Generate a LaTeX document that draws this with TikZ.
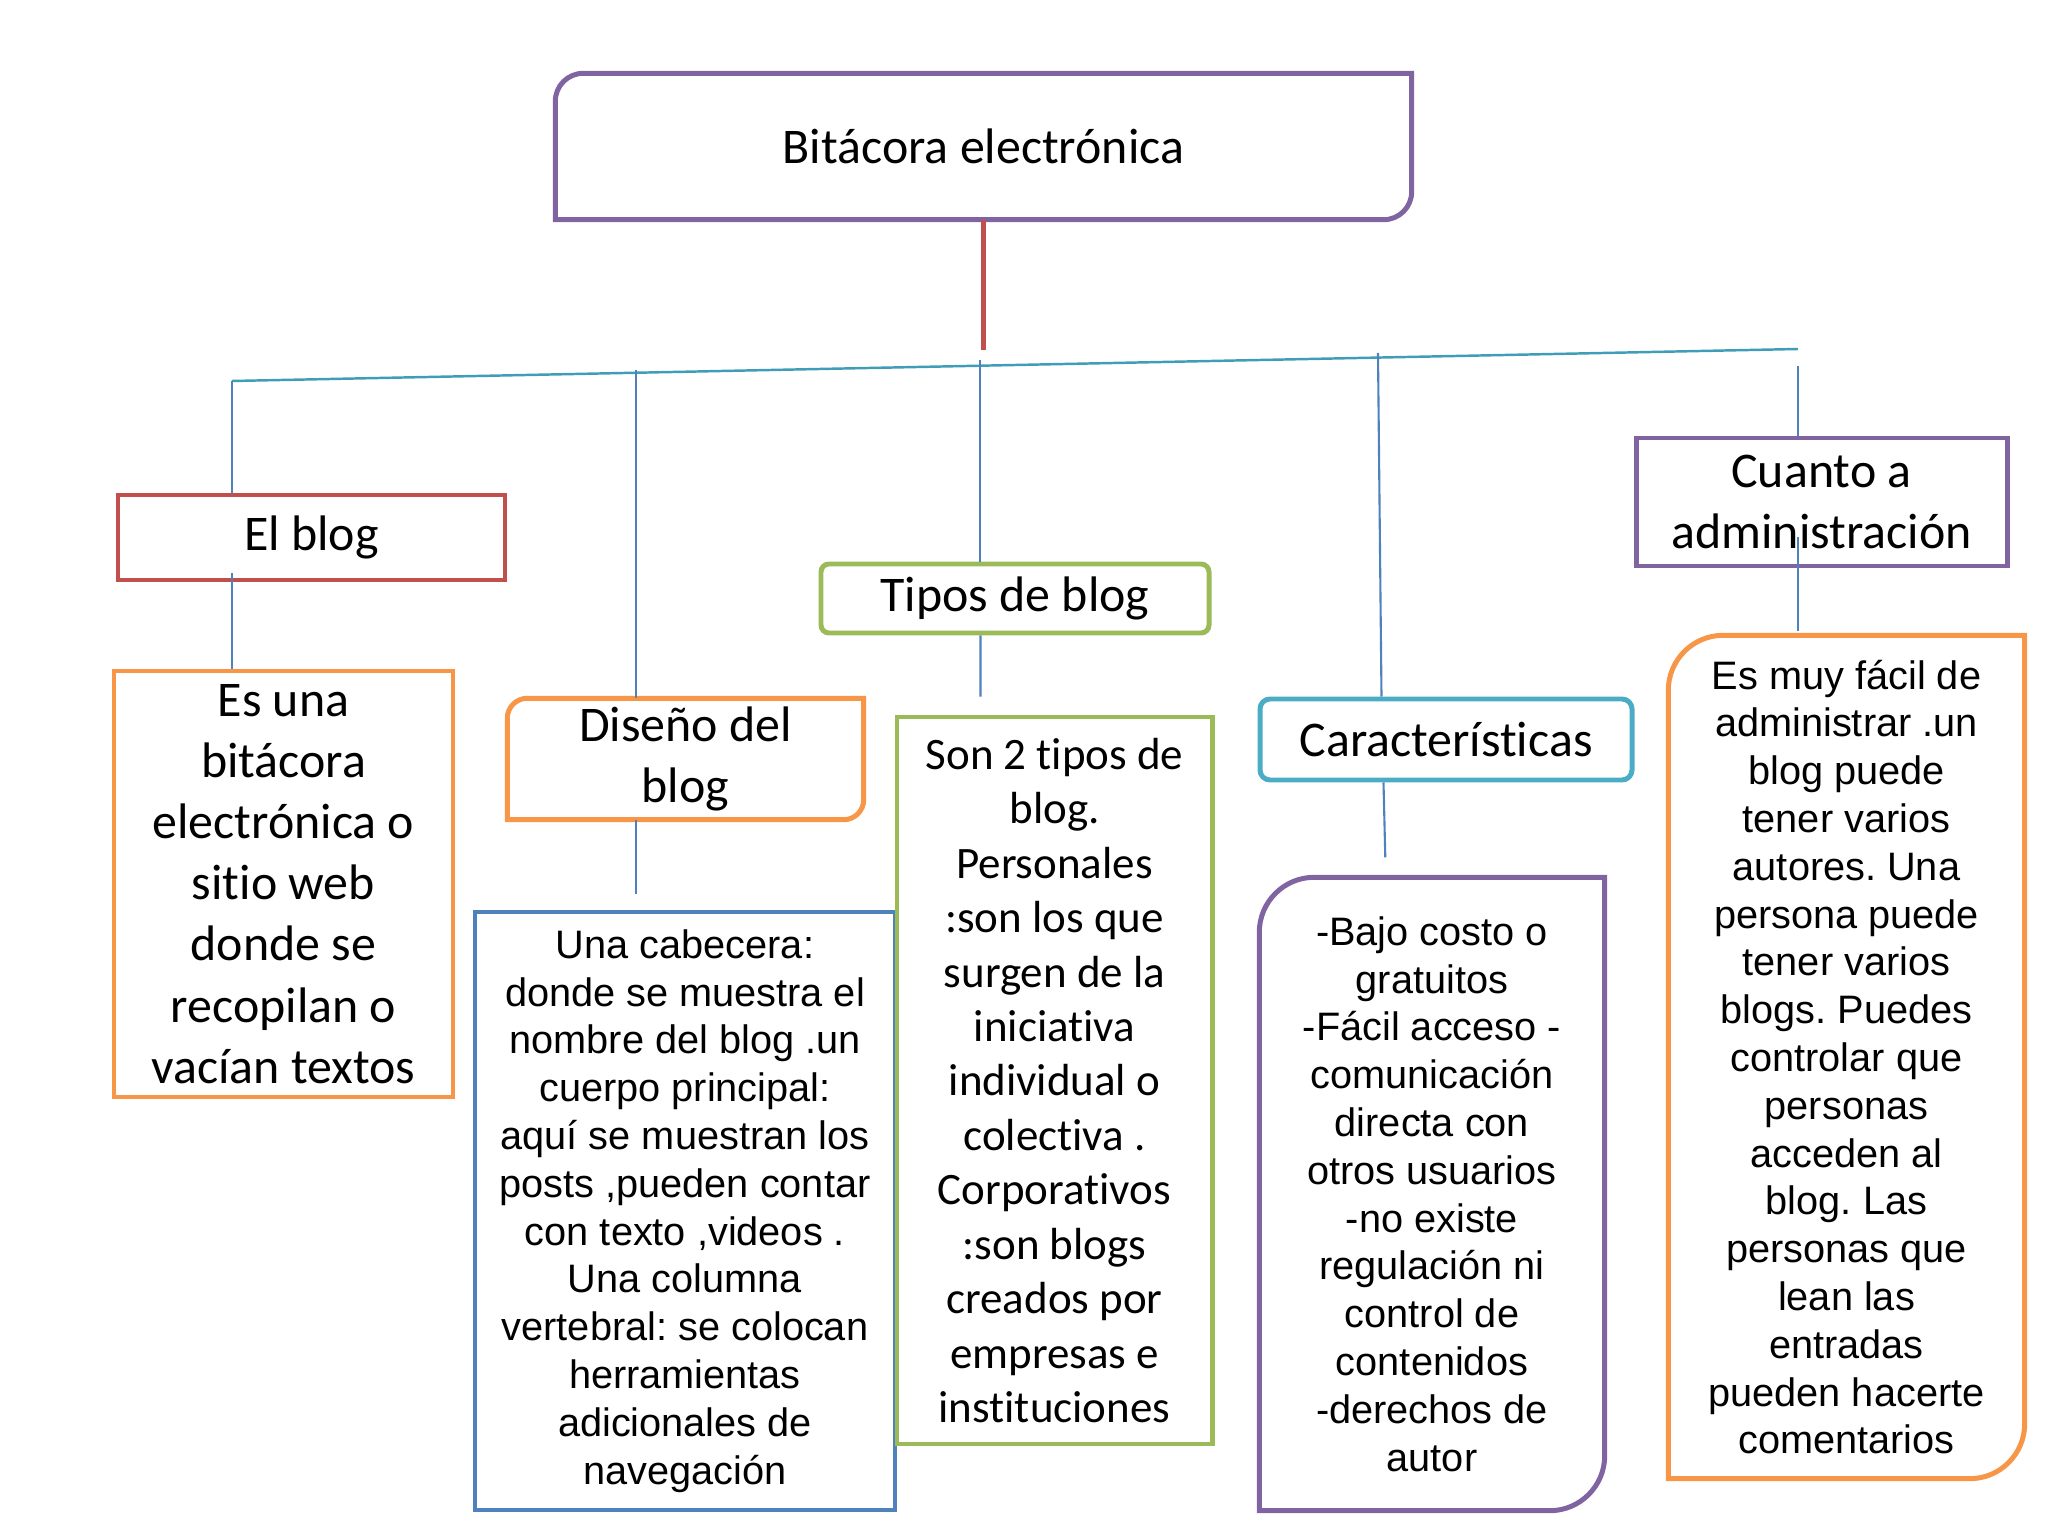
\documentclass[tikz,border=0pt]{standalone}
\usepackage{fontspec}
\setmainfont{Carlito}[Ligatures=NoCommon]
\newfontfamily\arialf{Liberation Sans}
\usetikzlibrary{calc,positioning}
\frenchspacing
\definecolor{morado}{HTML}{8064A2}
\definecolor{rojo}{HTML}{C0504D}
\definecolor{naranja}{HTML}{F79646}
\definecolor{azul}{HTML}{4F81BD}
\definecolor{verde}{HTML}{9BBB59}
\definecolor{turq}{HTML}{4BACC6}
\definecolor{eje}{HTML}{3F9DB8}
\tikzset{
  caja/.style={rectangle,inner sep=0pt,align=center},
  borde/.style={draw=#1,line width=1.42pt},
  grande/.style={font=\fontsize{14.2pt}{17.4pt}\selectfont},
  medio/.style={font=\fontsize{12.8pt}{15.5pt}\selectfont},
  arial/.style={font=\arialf\fontsize{11.3pt}{13.6pt}\selectfont},
  con/.style={draw=azul,line width=0.6pt},
  raya/.style={draw=eje,line width=0.7pt},
}
% marco con esquinas redondeadas arriba-izquierda y abajo-derecha
\newcommand{\marcoesq}[3]{%
  \draw[#3,line width=1.42pt] ($(#1.north west)+(0,-#2)$) arc[start angle=180,end angle=90,radius=#2]
    -- (#1.north east) -- ($(#1.south east)+(0,#2)$) arc[start angle=0,end angle=-90,radius=#2]
    -- (#1.south west) -- cycle;}
\begin{document}
\begin{tikzpicture}
  \useasboundingbox (0,0) rectangle (20.48,-15.36);
  \node[caja,grande,minimum width=8.55cm,minimum height=1.45cm] (titulo) at (9.835,-1.465) {Bitácora electrónica};
  \marcoesq{titulo}{0.28}{morado}
  \node[caja,grande,borde=rojo,minimum width=3.87cm,minimum height=0.85cm] (elblog) at (3.115,-5.375) {El blog};
  \node[caja,grande,borde=naranja,minimum width=3.39cm,minimum height=4.26cm] (esuna) at (2.835,-8.84)
    {Es una\\bitácora\\electrónica o\\sitio web\\donde se\\recopilan o\\vacían textos};
  \node[caja,grande,minimum width=3.55cm,minimum height=1.20cm] (diseno) at (6.855,-7.59) {Diseño del\\blog};
  \marcoesq{diseno}{0.2}{naranja}
  \node[caja,arial,borde=azul,minimum width=4.20cm,minimum height=5.98cm] (cabecera) at (6.85,-12.11)
    {Una cabecera:\\donde se muestra el\\nombre del blog .un\\cuerpo principal:\\aquí se muestran los\\posts ,pueden contar\\con texto ,videos .\\Una columna\\vertebral: se colocan\\herramientas\\adicionales de\\navegación};
  \node[caja,grande,borde=verde,rounded corners=0.08cm,minimum width=3.88cm,minimum height=0.69cm] (tipos) at (10.15,-5.985) {Tipos de blog};
  \node[caja,medio,borde=verde,minimum width=3.15cm,minimum height=7.27cm] (sontipos) at (10.545,-10.805)
    {Son 2 tipos de\\blog.\\Personales\\:son los que\\surgen de la\\iniciativa\\individual o\\colectiva .\\Corporativos\\:son blogs\\creados por\\empresas e\\instituciones};
  \node[caja,grande,borde=turq,rounded corners=0.1cm,minimum width=3.72cm,minimum height=0.81cm] (caract) at (14.46,-7.395) {Características};
  \node[caja,arial,minimum width=3.44cm,minimum height=6.32cm] (bajo) at (14.32,-11.94)
    {-Bajo costo o\\gratuitos\\-Fácil acceso -\\comunicación\\directa con\\otros usuarios\\-no existe\\regulación ni\\control de\\contenidos\\-derechos de\\autor};
  \marcoesq{bajo}{0.55}{morado}
  \node[caja,grande,borde=morado,minimum width=3.71cm,minimum height=1.28cm] (cuanto) at (18.215,-5.02) {Cuanto a\\administración};
  \node[caja,arial,minimum width=3.55cm,minimum height=8.42cm] (esmuy) at (18.465,-10.57)
    {Es muy fácil de\\administrar .un\\blog puede\\tener varios\\autores. Una\\persona puede\\tener varios\\blogs. Puedes\\controlar que\\personas\\acceden al\\blog. Las\\personas que\\lean las\\entradas\\pueden hacerte\\comentarios};
  \marcoesq{esmuy}{0.55}{naranja}
  \coordinate (h1) at (2.32,-3.81);
  \coordinate (h2) at (17.98,-3.49);
  \coordinate (d2) at (6.36,-3.70);
  \coordinate (d3) at (9.80,-3.60);
  \coordinate (d4) at (13.78,-3.53);
  \coordinate (d5) at (17.98,-3.66);
  \coordinate (r1) at (9.835,-3.50);
  \draw[rojo,line width=1.6pt] (titulo.south) -- (r1);
  \draw[raya] (h1) -- (h2);
  \draw[con] (h1) -- (h1 |- elblog.north);
  \draw[con] (d2) -- (d2 |- diseno.north);
  \draw[con] (d3) -- (d3 |- tipos.north);
  \draw[con] (d4) -- ($(caract.north west)+(1.24,0)$);
  \draw[con] (d5) -- (d5 |- cuanto.north);
  \draw[con] ($(h1 |- elblog.south)+(0,0.09)$) -- (h1 |- esuna.north);
  \draw[con] (d2 |- diseno.south) -- ($(d2 |- cabecera.north)+(0,0.16)$);
  \draw[con] ($(tipos.south west)+(1.62,0)$) -- ($(sontipos.north west)+(0.86,0.18)$);
  \draw[con] ($(caract.south west)+(1.26,0)$) -- ($(bajo.north west)+(1.26,0.20)$);
  \draw[con] ($(d5 |- cuanto.south)+(0,0.31)$) -- ($(d5 |- esmuy.north)+(0,0.04)$);
\end{tikzpicture}
\end{document}
